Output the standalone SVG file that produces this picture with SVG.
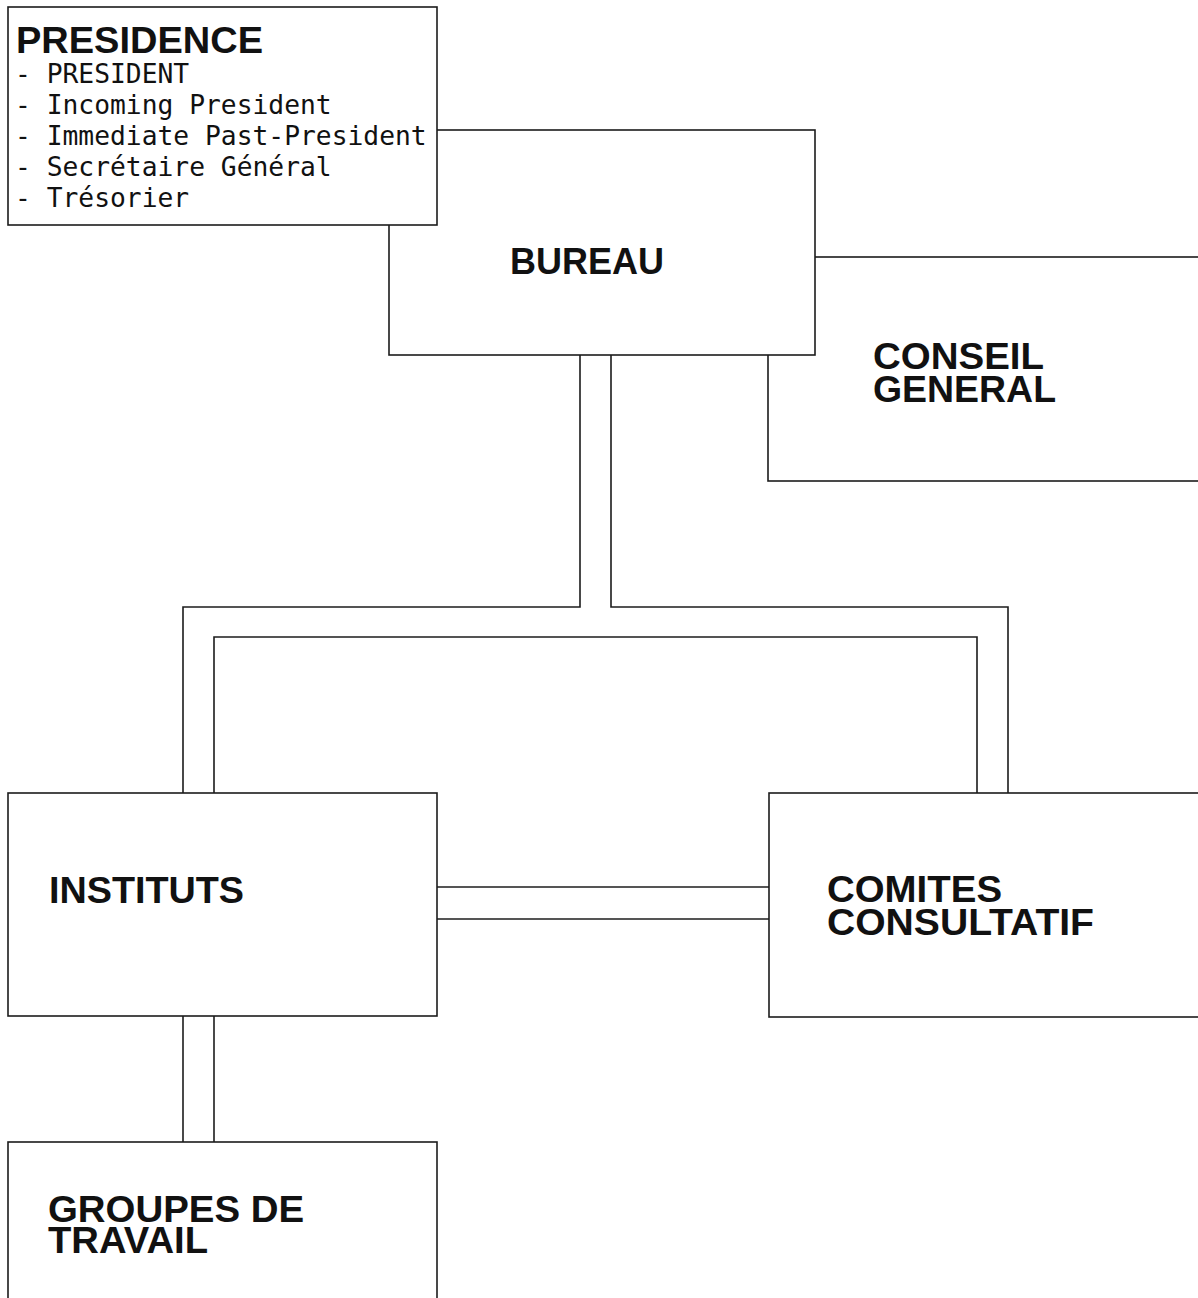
<svg xmlns="http://www.w3.org/2000/svg" width="1198" height="1298" viewBox="0 0 1198 1298">
<style>
.box{fill:#fff;stroke:#1c1c1c;stroke-width:1.6}
.ln{fill:none;stroke:#1c1c1c;stroke-width:1.6}
.h{font-family:"Liberation Sans",Arial,sans-serif;font-weight:bold;font-size:37px;fill:#111}
.m{font-family:"DejaVu Sans Mono","Liberation Mono",monospace;font-size:26.3px;fill:#111}
</style>
<rect x="0" y="0" width="1198" height="1298" fill="#fff"/>
<g id="connectors">
<path class="ln" d="M580,355 V607 H183 V793"/>
<path class="ln" d="M611,355 V607 H1008 V793"/>
<path class="ln" d="M214,793 V637 H977 V793"/>
<path class="ln" d="M437,887 H769"/>
<path class="ln" d="M437,919 H769"/>
<path class="ln" d="M183,1016 V1142"/>
<path class="ln" d="M214,1016 V1142"/>
</g>
<g id="conseil">
<rect class="box" x="768" y="257" width="500" height="224"/>
<text class="h" x="873" y="369" textLength="171" lengthAdjust="spacingAndGlyphs">CONSEIL</text>
<text class="h" x="873" y="402" textLength="183" lengthAdjust="spacingAndGlyphs">GENERAL</text>
</g>
<g id="bureau">
<rect class="box" x="389" y="130" width="426" height="225"/>
<text class="h" x="510" y="274" textLength="154" lengthAdjust="spacingAndGlyphs">BUREAU</text>
</g>
<g id="presidence">
<rect class="box" x="8" y="7" width="429" height="218"/>
<text class="h" x="16" y="53" textLength="247" lengthAdjust="spacingAndGlyphs">PRESIDENCE</text>
<text class="m" x="15" y="83">- PRESIDENT</text>
<text class="m" x="15" y="114">- Incoming President</text>
<text class="m" x="15" y="145">- Immediate Past-President</text>
<text class="m" x="15" y="176">- Secrétaire Général</text>
<text class="m" x="15" y="207">- Trésorier</text>
</g>
<g id="instituts">
<rect class="box" x="8" y="793" width="429" height="223"/>
<text class="h" x="49" y="903" textLength="195" lengthAdjust="spacingAndGlyphs">INSTITUTS</text>
</g>
<g id="comites">
<rect class="box" x="769" y="793" width="500" height="224"/>
<text class="h" x="827" y="902" textLength="175" lengthAdjust="spacingAndGlyphs">COMITES</text>
<text class="h" x="827" y="935" textLength="267" lengthAdjust="spacingAndGlyphs">CONSULTATIF</text>
</g>
<g id="groupes">
<rect class="box" x="8" y="1142" width="429" height="200"/>
<text class="h" x="48" y="1222" textLength="256" lengthAdjust="spacingAndGlyphs">GROUPES DE</text>
<text class="h" x="48" y="1253" textLength="160" lengthAdjust="spacingAndGlyphs">TRAVAIL</text>
</g>
</svg>
